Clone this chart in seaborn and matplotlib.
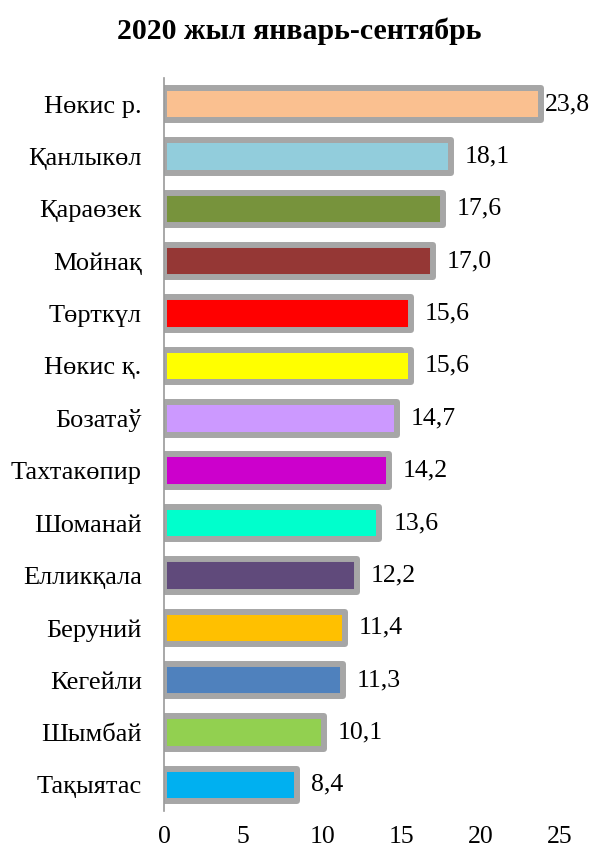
import numpy as np
import pandas as pd
import matplotlib
matplotlib.use("Agg")
import matplotlib.pyplot as plt
import seaborn as sns

# данные
districts = ["Нөкис р.", "Қанлыкөл", "Қараөзек", "Мойнақ", "Төрткүл", "Нөкис қ.",
             "Бозатаў", "Тахтакөпир", "Шоманай", "Елликқала", "Беруний", "Кегейли",
             "Шымбай", "Тақыятас"]
values = [23.8, 18.1, 17.6, 17.0, 15.6, 15.6, 14.7, 14.2, 13.6, 12.2, 11.4, 11.3, 10.1, 8.4]
bar_colors = ["#FAC090", "#92CDDC", "#77933C", "#953735", "#FF0000", "#FFFF00",
              "#CC99FF", "#CC00CC", "#00FFCC", "#604A7B", "#FFC000", "#4F81BD",
              "#92D050", "#00B0F0"]
xticks = [0, 5, 10, 15, 20, 25]
title = "2020 жыл январь-сентябрь"

sns.set_style("white")
plt.rcParams['font.family'] = ['Liberation Serif', 'DejaVu Serif']
plt.rcParams['text.color'] = 'black'
plt.rcParams['xtick.color'] = 'black'
plt.rcParams['ytick.color'] = 'black'

df = pd.DataFrame({"district": districts, "value": values})

fig = plt.figure(figsize=(5.98, 8.52), dpi=100)
ax = fig.add_axes([0.2742, 0.0481, 0.6622, 0.8604])

sns.barplot(data=df, x="value", y="district", hue="district", palette=bar_colors,
            saturation=1, orient="h", width=0.62, edgecolor="#A6A6A6", linewidth=4.3,
            legend=False, ax=ax)
for p in ax.patches:
    p.set_joinstyle("round")

ax.set_xlim(0, 25)
ax.set_ylim(len(districts) - 0.5, -0.5)
ax.set_xticks(xticks)
ax.set_xticklabels([str(t) for t in xticks])
ax.set_xlabel("")
ax.set_ylabel("")
ax.tick_params(axis="x", length=0, pad=11, labelsize=18.5)
ax.tick_params(axis="y", length=0, pad=16, labelsize=19)

for s in ["top", "right", "bottom"]:
    ax.spines[s].set_visible(False)
ax.spines["left"].set_color("#9A9A9A")
ax.spines["left"].set_linewidth(1.2)
ax.spines["left"].set_zorder(5)

# подписи значений
for i, v in enumerate(values):
    off = 3 if v == max(values) else 10
    ax.annotate(f"{v:.1f}".replace(".", ","), (v, i), xytext=(off, 0),
                textcoords="offset points", va="center", ha="left",
                fontsize=18.5, annotation_clip=False)

fig.text(0.5, 0.963, title, ha="center", va="center", fontsize=21.5,
         fontweight="bold")

fig.savefig("out.png", dpi=100)
